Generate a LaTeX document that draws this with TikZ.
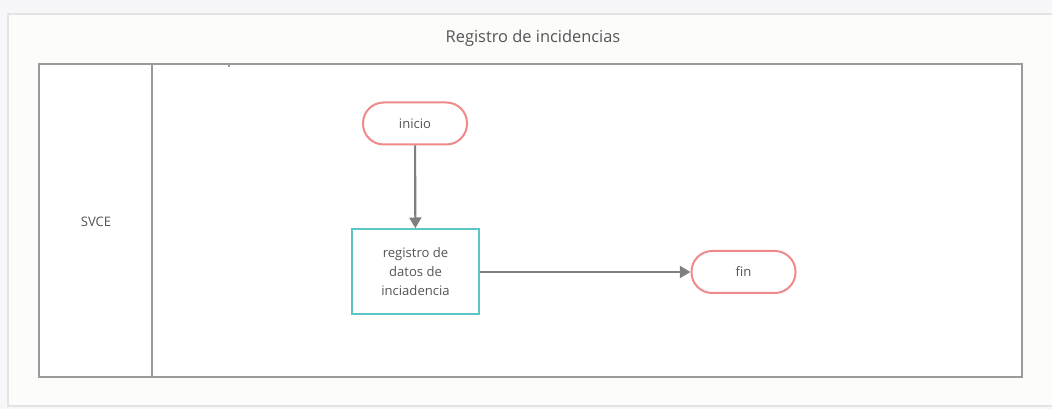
\documentclass[tikz,border=0pt]{standalone}
\usepackage{fontspec}
\setmainfont{Open Sans}
\usetikzlibrary{arrows.meta}
\definecolor{bgc}{HTML}{F7F7F9}
\definecolor{framec}{HTML}{FCFCFB}
\definecolor{frameb}{HTML}{E4E4E4}
\definecolor{lanec}{HTML}{9A9A9A}
\definecolor{pillc}{HTML}{F08A8A}
\definecolor{boxc}{HTML}{5CC6C6}
\definecolor{arrc}{HTML}{7F7F7F}
\definecolor{txtc}{HTML}{555555}
\tikzset{
  pill/.style={draw=pillc, line width=1.5pt, rounded corners=15.5pt, fill=white, minimum width=78pt, minimum height=31.5pt, text=txtc, font=\fontsize{9.8}{12}\selectfont},
  procbox/.style={draw=boxc, line width=1.5pt, fill=white, minimum width=95pt, minimum height=63.5pt, text=txtc, align=center, font=\fontsize{9.8}{14}\selectfont},
  conn/.style={draw=arrc, line width=1.6pt, -{Triangle[length=8pt,width=9pt]}},
  lane/.style={draw=lanec, line width=1.6pt},
}
\begin{document}
\begin{tikzpicture}[x=0.75pt,y=-0.75pt]
\useasboundingbox (0,0) rectangle (1052,409);
\fill[bgc] (0,0) rectangle (1052,409);
\draw[frameb, fill=framec, line width=1pt] (8,14) rectangle (1056,406);
\node[text=txtc, font=\fontsize{12.3}{14}\selectfont] (title) at (533,38) {Registro de incidencias};
\draw[lane, fill=white] (39,64) rectangle (1022,377);
\draw[lane] (152,64) -- (152,377);
\draw[lanec, line width=1pt] (229,64) -- (229,67);
\node[text=txtc, font=\fontsize{9.8}{12}\selectfont] (svce) at (96,222) {SVCE};
\node[pill] (inicio) at (415,123.5) {inicio};
\node[procbox] (reg) at (415.5,271.5) {registro de\\datos de\\inciadencia};
\node[pill] (fin) at (743.5,272) {fin};
\draw[conn] (inicio) -- (reg);
\draw[conn] (reg.east |- fin) -- (fin);
\end{tikzpicture}
\end{document}
